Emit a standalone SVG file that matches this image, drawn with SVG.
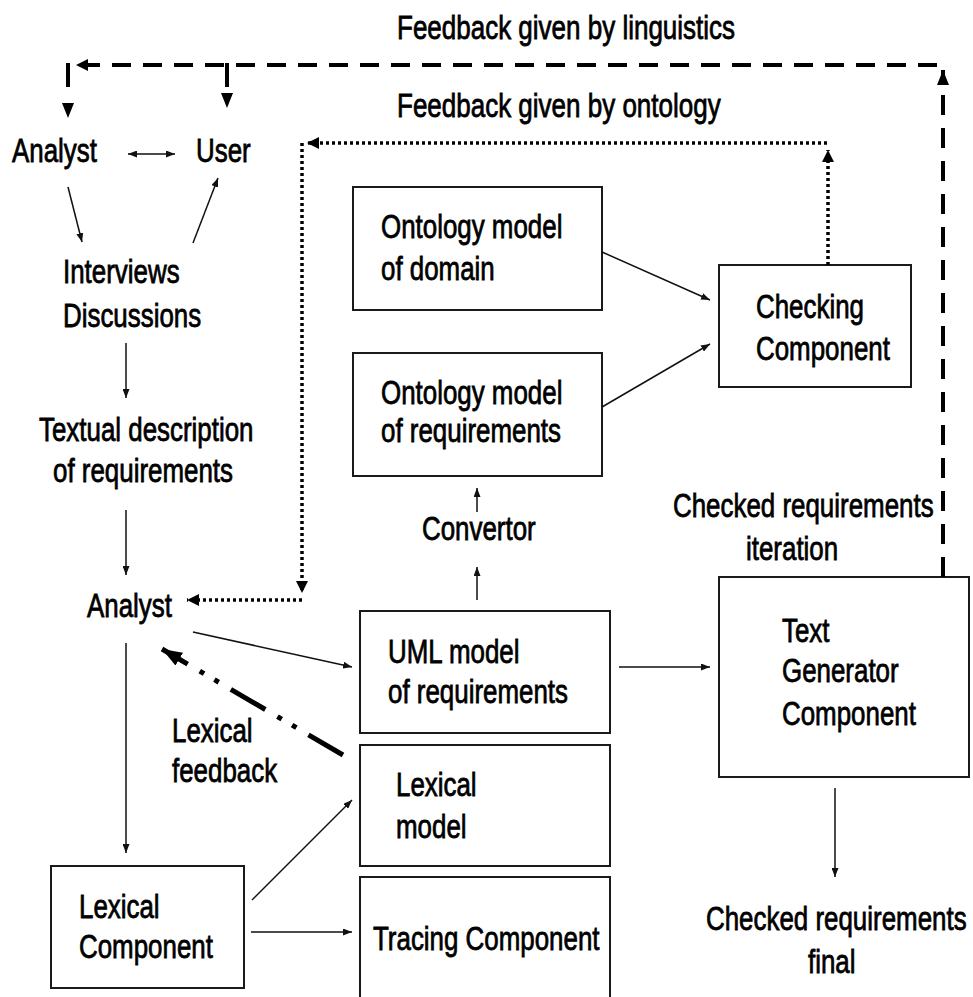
<svg xmlns="http://www.w3.org/2000/svg" width="973" height="997" viewBox="0 0 973 997">
  <style>
    .box { fill: #fff; stroke: #1a1a1a; stroke-width: 2; }
    .lbl { font-family: "Liberation Sans", Arial, sans-serif; font-size: 34px; fill: #000; stroke: #000; stroke-width: 0.8; }
    .thin { fill: none; stroke: #111; stroke-width: 1.5; }
    .dash { fill: none; stroke: #000; stroke-width: 4; stroke-dasharray: 19 12; }
    .dashv { fill: none; stroke: #000; stroke-width: 4; stroke-dasharray: 20 13; }
    .dot { fill: none; stroke: #000; stroke-width: 3.5; stroke-dasharray: 3 3; }
    .dashdot { fill: none; stroke: #000; stroke-width: 5; stroke-dasharray: 40 14 5 12 5 14; }
  </style>
  <defs>
    <marker id="ah" viewBox="0 0 10 10" refX="10" refY="5" markerWidth="9" markerHeight="7" preserveAspectRatio="none" orient="auto" markerUnits="userSpaceOnUse">
      <path d="M0,0 L10,5 L0,10 z" fill="#111"/>
    </marker>
    <marker id="ahs" viewBox="0 0 10 10" refX="0" refY="5" markerWidth="9" markerHeight="7" preserveAspectRatio="none" orient="auto" markerUnits="userSpaceOnUse">
      <path d="M10,0 L0,5 L10,10 z" fill="#111"/>
    </marker>
    <marker id="ahb" viewBox="0 0 10 10" refX="10" refY="5" markerWidth="15" markerHeight="12" preserveAspectRatio="none" orient="auto" markerUnits="userSpaceOnUse">
      <path d="M0,0 L10,5 L0,10 z" fill="#000"/>
    </marker>
    <marker id="ahd" viewBox="0 0 10 10" refX="10" refY="5" markerWidth="12" markerHeight="12" preserveAspectRatio="none" orient="auto" markerUnits="userSpaceOnUse">
      <path d="M0,0 L10,5 L0,10 z" fill="#000"/>
    </marker>
    <marker id="ahk" viewBox="0 0 10 10" refX="10" refY="5" markerWidth="20" markerHeight="15" preserveAspectRatio="none" orient="auto" markerUnits="userSpaceOnUse">
      <path d="M0,0 L10,5 L0,10 z" fill="#000"/>
    </marker>
  </defs>

  <rect width="973" height="997" fill="#fff"/>

  <!-- free-standing labels; the face is drawn narrow via a horizontal scale -->
  <g id="label-linguistics"><text class="lbl" transform="translate(397,39) scale(0.765,1)">Feedback given by linguistics</text></g>
  <g id="label-ontology"><text class="lbl" transform="translate(397,117) scale(0.765,1)">Feedback given by ontology</text></g>
  <g id="analyst-top"><text class="lbl" transform="translate(12,162) scale(0.762,1)">Analyst</text></g>
  <g id="user"><text class="lbl" transform="translate(196,162) scale(0.762,1)">User</text></g>
  <g id="interviews">
    <text class="lbl" transform="translate(63,283) scale(0.762,1)">Interviews</text>
    <text class="lbl" transform="translate(63,327) scale(0.762,1)">Discussions</text>
  </g>
  <g id="textual">
    <text class="lbl" transform="translate(39,441) scale(0.762,1)">Textual description</text>
    <text class="lbl" transform="translate(53,482) scale(0.762,1)">of requirements</text>
  </g>
  <g id="analyst-low"><text class="lbl" transform="translate(87,617) scale(0.762,1)">Analyst</text></g>
  <g id="label-lexical-feedback">
    <text class="lbl" transform="translate(172,742) scale(0.762,1)">Lexical</text>
    <text class="lbl" transform="translate(172,782) scale(0.762,1)">feedback</text>
  </g>
  <g id="convertor"><text class="lbl" transform="translate(422,540) scale(0.762,1)">Convertor</text></g>
  <g id="checked-iteration">
    <text class="lbl" transform="translate(673,517) scale(0.762,1)">Checked requirements</text>
    <text class="lbl" transform="translate(746,560) scale(0.762,1)">iteration</text>
  </g>
  <g id="checked-final">
    <text class="lbl" transform="translate(706,930) scale(0.762,1)">Checked requirements</text>
    <text class="lbl" transform="translate(808,973) scale(0.762,1)">final</text>
  </g>

  <!-- boxed components -->
  <g id="ontology-domain">
    <rect class="box" x="353" y="187" width="249" height="123"/>
    <text class="lbl" transform="translate(381,238) scale(0.762,1)">Ontology model</text>
    <text class="lbl" transform="translate(381,280) scale(0.762,1)">of domain</text>
  </g>
  <g id="ontology-requirements">
    <rect class="box" x="353" y="353" width="249" height="123"/>
    <text class="lbl" transform="translate(381,404) scale(0.762,1)">Ontology model</text>
    <text class="lbl" transform="translate(381,442) scale(0.762,1)">of requirements</text>
  </g>
  <g id="checking">
    <rect class="box" x="719" y="265" width="192" height="122"/>
    <text class="lbl" transform="translate(756,318) scale(0.762,1)">Checking</text>
    <text class="lbl" transform="translate(756,360) scale(0.762,1)">Component</text>
  </g>
  <g id="uml">
    <rect class="box" x="360" y="611" width="250" height="122"/>
    <text class="lbl" transform="translate(388,663) scale(0.762,1)">UML model</text>
    <text class="lbl" transform="translate(388,703) scale(0.762,1)">of requirements</text>
  </g>
  <g id="text-generator">
    <rect class="box" x="719" y="577" width="250" height="200"/>
    <text class="lbl" transform="translate(782,642) scale(0.762,1)">Text</text>
    <text class="lbl" transform="translate(782,682) scale(0.762,1)">Generator</text>
    <text class="lbl" transform="translate(782,725) scale(0.762,1)">Component</text>
  </g>
  <g id="lexical-model">
    <rect class="box" x="360" y="745" width="250" height="121"/>
    <text class="lbl" transform="translate(396,796) scale(0.762,1)">Lexical</text>
    <text class="lbl" transform="translate(396,838) scale(0.762,1)">model</text>
  </g>
  <g id="tracing">
    <rect class="box" x="360" y="877" width="250" height="140"/>
    <text class="lbl" transform="translate(373,950) scale(0.762,1)">Tracing Component</text>
  </g>
  <g id="lexical-component">
    <rect class="box" x="51" y="866" width="193" height="122"/>
    <text class="lbl" transform="translate(79,918) scale(0.762,1)">Lexical</text>
    <text class="lbl" transform="translate(79,958) scale(0.762,1)">Component</text>
  </g>

  <!-- connectors -->
  <g id="connectors">
    <line class="thin" x1="128" y1="154" x2="175" y2="154" marker-start="url(#ahs)" marker-end="url(#ah)"/>
    <line class="thin" x1="68" y1="187" x2="82" y2="242" marker-end="url(#ah)"/>
    <line class="thin" x1="193" y1="243" x2="218" y2="178" marker-end="url(#ah)"/>
    <line class="thin" x1="126" y1="343" x2="126" y2="398" marker-end="url(#ah)"/>
    <line class="thin" x1="126" y1="510" x2="126" y2="575" marker-end="url(#ah)"/>
    <line class="thin" x1="126" y1="643" x2="126" y2="853" marker-end="url(#ah)"/>
    <line class="thin" x1="193" y1="632" x2="352" y2="667" marker-end="url(#ah)"/>
    <line class="thin" x1="477" y1="600" x2="477" y2="567" marker-end="url(#ah)"/>
    <line class="thin" x1="477" y1="512" x2="477" y2="488" marker-end="url(#ah)"/>
    <line class="thin" x1="602" y1="252" x2="710" y2="300" marker-end="url(#ah)"/>
    <line class="thin" x1="602" y1="407" x2="710" y2="344" marker-end="url(#ah)"/>
    <line class="thin" x1="619" y1="667" x2="710" y2="667" marker-end="url(#ah)"/>
    <line class="thin" x1="835" y1="788" x2="835" y2="877" marker-end="url(#ah)"/>
    <line class="thin" x1="252" y1="900" x2="352" y2="800" marker-end="url(#ah)"/>
    <line class="thin" x1="251" y1="932" x2="352" y2="932" marker-end="url(#ah)"/>

    <!-- lexical feedback (dash-dot) -->
    <path class="dashdot" d="M343,755 L162,649" marker-end="url(#ahk)"/>

    <!-- feedback given by ontology (dotted) -->
    <path class="dot" d="M828,265 L828,150" marker-end="url(#ahd)"/>
    <path class="dot" d="M827,143 L307,143" marker-end="url(#ahd)"/>
    <path class="dot" d="M302,143 L302,593" marker-end="url(#ahd)"/>
    <path class="dot" d="M302,600 L187,600" marker-end="url(#ahd)"/>

    <!-- feedback given by linguistics (dashed) -->
    <path class="dashv" d="M943,577 L943,70" marker-end="url(#ahb)"/>
    <path class="dash" d="M937,65 L76,65" marker-end="url(#ahd)"/>
    <path class="dash" style="stroke-dasharray:24 100" d="M68,63 L68,118" marker-end="url(#ahb)"/>
    <path class="dash" style="stroke-dasharray:24 100" d="M227,63 L227,108" marker-end="url(#ahb)"/>
  </g>
</svg>
